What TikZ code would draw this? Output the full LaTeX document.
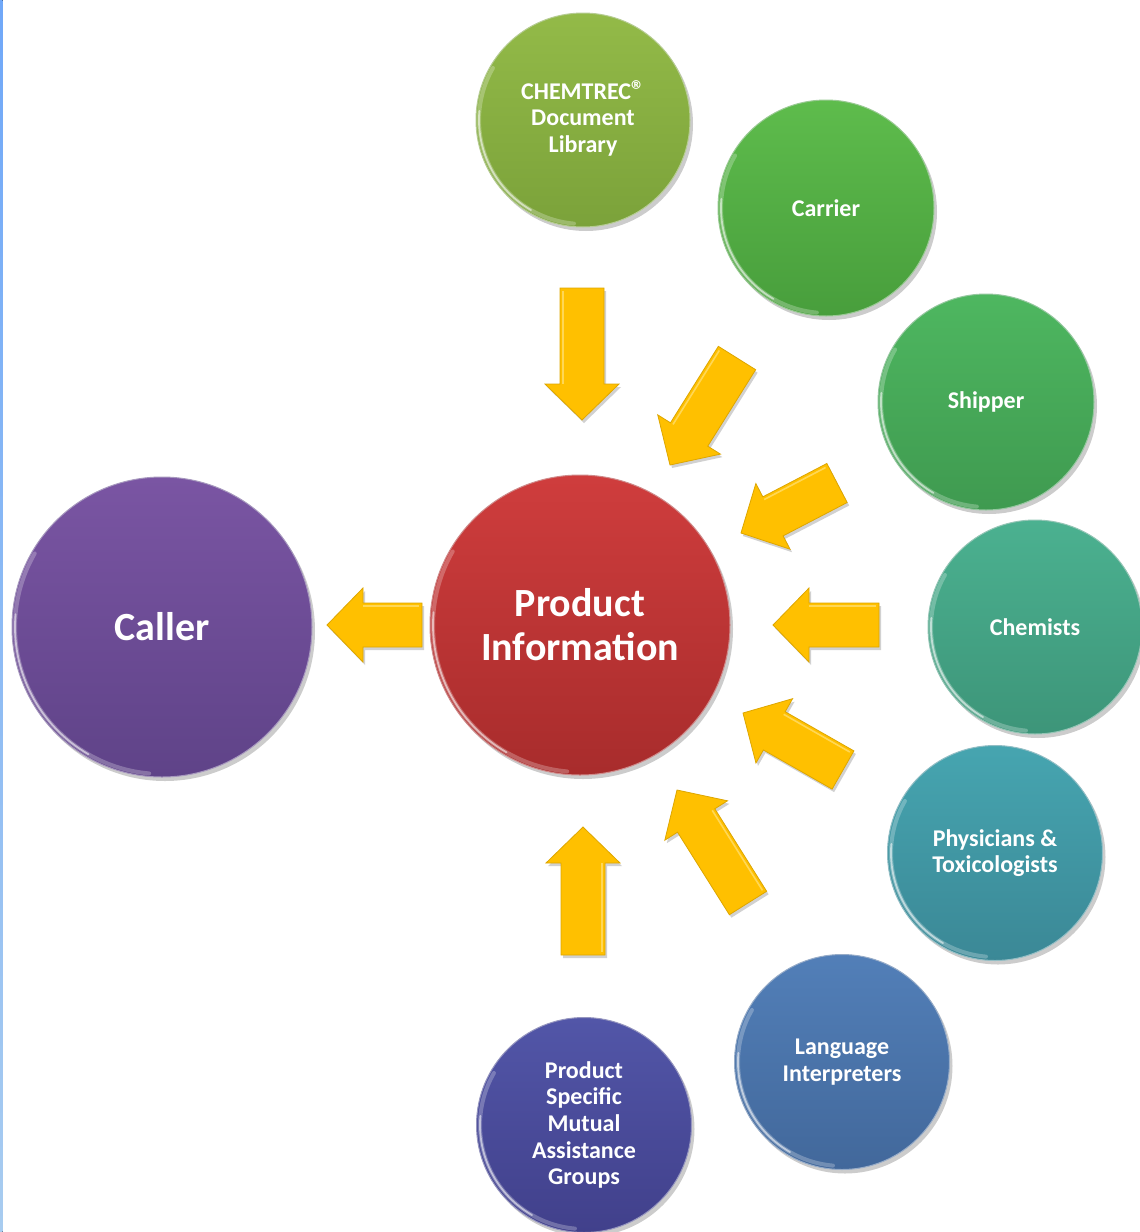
\documentclass[tikz,border=0pt]{standalone}
\usepackage{fontspec}
\setmainfont{Carlito}
\usetikzlibrary{calc,shadows}
\definecolor{arrowY}{HTML}{FFC000}
\definecolor{arrowE}{HTML}{DDA600}
\definecolor{arrowL}{HTML}{FFE27A}
\definecolor{stripT}{HTML}{70A8F8}
\definecolor{stripB}{HTML}{A8CCF0}
\definecolor{callT}{HTML}{7A55A3}\definecolor{callB}{HTML}{5F4388}
\definecolor{prodT}{HTML}{CF3D3D}\definecolor{prodB}{HTML}{A82C2C}
\definecolor{chemT}{HTML}{93BA48}\definecolor{chemB}{HTML}{7BA23A}
\definecolor{carrT}{HTML}{5EBC4C}\definecolor{carrB}{HTML}{489E3C}
\definecolor{shipT}{HTML}{4EB760}\definecolor{shipB}{HTML}{3F9A50}
\definecolor{chmsT}{HTML}{4BB190}\definecolor{chmsB}{HTML}{3D9579}
\definecolor{physT}{HTML}{46A5B0}\definecolor{physB}{HTML}{3B8896}
\definecolor{langT}{HTML}{527FB8}\definecolor{langB}{HTML}{42689B}
\definecolor{psmgT}{HTML}{5256A8}\definecolor{psmgB}{HTML}{41408B}
\newcommand\blockarr[3]{%
  \coordinate (#1-h) at ($(#3)!36pt!(#2)$);
  \filldraw[yarrow] ($(#2)!22pt!90:(#3)$) -- ($(#1-h)!22pt!90:(#3)$) -- ($(#1-h)!37pt!90:(#3)$) -- (#3)
    -- ($(#1-h)!37pt!-90:(#3)$) -- ($(#1-h)!22pt!-90:(#3)$) -- ($(#2)!22pt!-90:(#3)$) -- cycle;
  \draw[arrowL, line width=1.6pt, opacity=.7] ($(#2)!3pt!(#3)!19pt!-90:(#3)$) -- ($(#1-h)!19pt!-90:(#3)$);}
\newcommand\glossy[2]{%
  \draw[white, opacity=.25, line width=4pt, line cap=round] ([shift={(#1.center)}]150:#2-3) arc[start angle=150, end angle=265, radius=#2-3];
  \draw[white, opacity=.55, line width=1.8pt, line cap=round] ([shift={(#1.center)}]175:#2-3) arc[start angle=175, end angle=240, radius=#2-3];}
\tikzset{
  ball/.style n args={3}{circle, inner sep=0pt, minimum size=#1, top color=#2, bottom color=#3,
    draw=#3!55!white, line width=1pt, text=white, align=center,
    drop shadow={shadow xshift=3pt, shadow yshift=-4pt, opacity=.2, fill=black}},
  small/.style={font=\fontsize{24}{26.7}\selectfont\bfseries},
  big/.style={font=\fontsize{40}{44}\selectfont\bfseries},
  yarrow/.style={fill=arrowY, draw=arrowE, line width=.8pt, line join=miter,
    drop shadow={shadow xshift=2pt, shadow yshift=-3pt, opacity=.18, fill=black}}
}
\begin{document}
\begin{tikzpicture}[x=1pt,y=1pt]
\useasboundingbox (0,0) rectangle (1140,-1232);
\fill[top color=stripT, bottom color=stripB] (0,0) rectangle (2.5,-1232);

% circles
\node[ball={300pt}{callT}{callB}, big] (caller) at (162,-627) {Caller};
\node[ball={300pt}{prodT}{prodB}, big] (prod) at (580,-625) {Product\\Information};
\node[ball={214pt}{chemT}{chemB}, small] (chem) at (583,-120) {CHEMTREC\smash{\fontsize{27}{26}\selectfont ®}\\Document\\Library};
\node[ball={216pt}{carrT}{carrB}, small] (carrier) at (826,-208) {Carrier};
\node[ball={216pt}{shipT}{shipB}, small] (shipper) at (986,-402) {Shipper};
\node[ball={214pt}{chmsT}{chmsB}, small] (chemists) at (1035,-627) {Chemists};
\node[ball={215pt}{physT}{physB}, small] (phys) at (995,-853) {Physicians \&\\Toxicologists};
\node[ball={215pt}{langT}{langB}, small] (lang) at (842,-1062) {Language\\Interpreters};
\node[ball={215pt}{psmgT}{psmgB}, small] (psmag) at (584,-1125) {Product\\Specific\\Mutual\\Assistance\\Groups};

\glossy{caller}{150}
\glossy{prod}{150}
\glossy{chem}{107}
\glossy{carrier}{108}
\glossy{shipper}{108}
\glossy{chemists}{107}
\glossy{phys}{107}
\glossy{lang}{107}
\glossy{psmag}{107}

% arrow end points
\coordinate (t1) at (582,-288);  \coordinate (p1) at (582,-420);
\coordinate (t2) at (737,-358);  \coordinate (p2) at (670,-465);
\coordinate (t3) at (837,-483);  \coordinate (p3) at (741,-533);
\coordinate (t4) at (879,-625);  \coordinate (p4) at (773,-625);
\coordinate (t5) at (843,-770);  \coordinate (p5) at (743,-713);
\coordinate (t6) at (748,-903);  \coordinate (p6) at (677,-790);
\coordinate (t7) at (583,-955);  \coordinate (p7) at (583,-827);
\coordinate (t8) at (422,-625);  \coordinate (p8) at (327,-625);

\blockarr{a1}{t1}{p1}
\blockarr{a2}{t2}{p2}
\blockarr{a3}{t3}{p3}
\blockarr{a4}{t4}{p4}
\blockarr{a5}{t5}{p5}
\blockarr{a6}{t6}{p6}
\blockarr{a7}{t7}{p7}
\blockarr{a8}{t8}{p8}
\end{tikzpicture}
\end{document}
